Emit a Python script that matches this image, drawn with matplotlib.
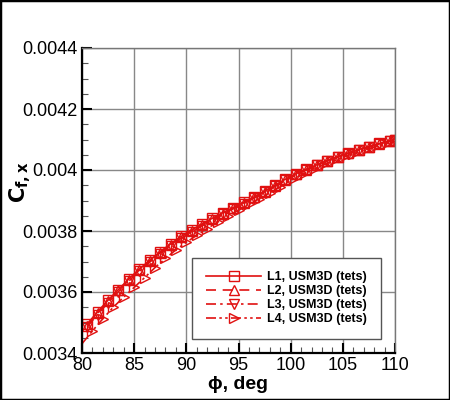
import matplotlib
matplotlib.use("Agg")
import matplotlib.pyplot as plt
from matplotlib.ticker import MultipleLocator, AutoMinorLocator

plt.rcParams['font.family'] = ['Liberation Sans', 'DejaVu Sans']

phi = [80.5, 81.5, 82.5, 83.5, 84.5, 85.5, 86.5, 87.5, 88.5, 89.5,
       90.5, 91.5, 92.5, 93.5, 94.5, 95.5, 96.5, 97.5, 98.5, 99.5,
       100.5, 101.5, 102.5, 103.5, 104.5, 105.5, 106.5, 107.5, 108.5, 109.5, 110.0]

cf_l1 = [0.003495, 0.003535, 0.003573, 0.003608, 0.003643, 0.003675, 0.003704, 0.003732,
         0.003758, 0.003782, 0.003803, 0.003823, 0.003842, 0.003860, 0.003877, 0.003894,
         0.003912, 0.003931, 0.003950, 0.003970, 0.003988, 0.004003, 0.004017, 0.004031,
         0.004044, 0.004056, 0.004067, 0.004077, 0.004087, 0.004096, 0.004100]
cf_l2 = [0.003490, 0.003530, 0.003569, 0.003605, 0.003640, 0.003672, 0.003701, 0.003729,
         0.003755, 0.003779, 0.003800, 0.003820, 0.003839, 0.003857, 0.003875, 0.003892,
         0.003910, 0.003929, 0.003948, 0.003968, 0.003986, 0.004001, 0.004016, 0.004030,
         0.004043, 0.004055, 0.004066, 0.004076, 0.004086, 0.004095, 0.004099]
cf_l3 = [0.003486, 0.003526, 0.003565, 0.003601, 0.003636, 0.003668, 0.003698, 0.003726,
         0.003752, 0.003776, 0.003797, 0.003817, 0.003836, 0.003855, 0.003873, 0.003890,
         0.003908, 0.003927, 0.003946, 0.003966, 0.003984, 0.004000, 0.004015, 0.004029,
         0.004042, 0.004054, 0.004065, 0.004075, 0.004085, 0.004094, 0.004098]

phi_l4 = [80.0, 81.0, 82.0, 83.0, 84.0, 85.0, 86.0, 87.0, 88.0, 89.0,
          90.0, 91.0, 92.0, 93.0, 94.0, 95.0, 96.0, 97.0, 98.0, 99.0,
          100.0, 101.0, 102.0, 103.0, 104.0, 105.0, 106.0, 107.0, 108.0, 109.0, 110.0]
cf_l4 = [0.003430, 0.003472, 0.003512, 0.003550, 0.003583, 0.003615, 0.003647, 0.003680,
         0.003710, 0.003738, 0.003763, 0.003786, 0.003808, 0.003829, 0.003849, 0.003868,
         0.003887, 0.003906, 0.003926, 0.003945, 0.003966, 0.003984, 0.004000, 0.004015,
         0.004029, 0.004042, 0.004054, 0.004065, 0.004075, 0.004085, 0.004094]

yticks = [0.0034, 0.0036, 0.0038, 0.004, 0.0042, 0.0044]
ytick_labels = ['0.0034', '0.0036', '0.0038', '0.004', '0.0042', '0.0044']
labels = ['L1, USM3D (tets)', 'L2, USM3D (tets)', 'L3, USM3D (tets)', 'L4, USM3D (tets)']
red = '#e01010'

fig = plt.figure(figsize=(4.5, 4.0), dpi=100)
ax = fig.add_axes([0.182, 0.1175, 0.696, 0.7625])

ax.plot(phi, cf_l1, color=red, lw=1.2, ls='-', marker='s', ms=6.5, mfc='none', mew=1.0, label=labels[0])
ax.plot(phi, cf_l2, color=red, lw=1.2, ls=(0, (6, 4)), marker='^', ms=7, mfc='none', mew=1.0, label=labels[1])
ax.plot(phi, cf_l3, color=red, lw=1.2, ls=(0, (6, 2.5, 1.5, 2.5)), marker='v', ms=7, mfc='none', mew=1.0,
        label=labels[2])
ax.plot(phi_l4, cf_l4, color=red, lw=1.2, ls=(0, (6, 2, 1.5, 2, 1.5, 2)), marker='>', ms=7, mfc='none', mew=1.0,
        markevery=list(range(1, len(phi_l4))), label=labels[3])

ax.set_xlim(80, 110)
ax.set_ylim(0.0034, 0.0044)
ax.xaxis.set_major_locator(MultipleLocator(5))
ax.set_yticks(yticks)
ax.set_yticklabels(ytick_labels)
ax.xaxis.set_minor_locator(AutoMinorLocator(5))
ax.yaxis.set_minor_locator(AutoMinorLocator(4))

ax.grid(True, which='major', color='#888888', lw=1.0)
ax.tick_params(which='both', direction='in', top=False, right=False, labelsize=13, colors='black')
ax.tick_params(which='major', length=7, width=1.5, pad=3)
ax.tick_params(which='minor', length=4, width=0.8, color='#555555')
for side in ['left', 'bottom']:
    ax.spines[side].set_linewidth(1.6)
for side in ['top', 'right']:
    ax.spines[side].set_color('#777777')
    ax.spines[side].set_linewidth(1.0)

ax.set_xlabel('ϕ, deg', fontsize=14, fontweight='bold', labelpad=1)
ax.set_ylabel(r'$\mathbf{C_{f,x}}$', fontsize=15)
ax.yaxis.set_label_coords(-0.155, 0.56)

leg = ax.legend(loc='lower right', bbox_to_anchor=(0.975, 0.026), handlelength=4.4,
                frameon=True, fancybox=False, edgecolor='#555555', framealpha=1.0,
                borderpad=1.1, labelspacing=0.15, handletextpad=0.5,
                prop={'weight': 'bold', 'size': 9})
leg.get_frame().set_linewidth(1.0)

fig.patches.append(plt.Rectangle((0, 0), 1, 1, transform=fig.transFigure, fill=False,
                                 edgecolor='black', lw=2.5))

fig.savefig('out.png', dpi=100)
